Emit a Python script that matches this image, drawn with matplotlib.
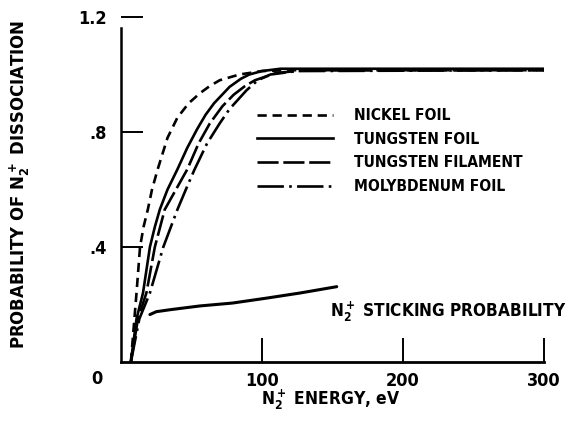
import matplotlib
matplotlib.use('Agg')
import matplotlib.pyplot as plt
from matplotlib import font_manager

# Dissociation probability vs N2+ energy, read per surface
energy_nickel = [7, 9, 11, 13.5, 16, 19, 22, 26, 33, 40, 48, 56, 63, 70, 84, 100, 120, 300]
prob_nickel = [0, 0.12, 0.24, 0.40, 0.47, 0.53, 0.60, 0.67, 0.78, 0.85, 0.90, 0.935, 0.96, 0.98, 1.0, 1.012, 1.015, 1.015]

energy_w_foil = [7, 11, 15.6, 20.5, 24, 27.5, 33, 40, 47, 54, 60, 66, 77, 85, 91, 100, 113, 300]
prob_w_foil = [0, 0.15, 0.24, 0.40, 0.47, 0.53, 0.60, 0.67, 0.745, 0.81, 0.86, 0.90, 0.957, 0.985, 1.0, 1.012, 1.02, 1.02]

energy_w_fil = [7, 12, 18, 24, 31, 39, 47, 55, 63, 72, 80, 88, 95, 110, 130, 300]
prob_w_fil = [0, 0.15, 0.24, 0.40, 0.53, 0.60, 0.67, 0.76, 0.83, 0.89, 0.93, 0.96, 0.98, 1.005, 1.015, 1.015]

energy_mo = [7, 13, 20.5, 30, 40, 46, 52, 61, 70, 77, 89, 97, 106, 125, 300]
prob_mo = [0, 0.15, 0.24, 0.40, 0.53, 0.60, 0.668, 0.76, 0.83, 0.88, 0.945, 0.98, 1.0, 1.012, 1.015]

# sticking probability curve
energy_stick = [20.5, 25, 35, 56, 79, 103, 127, 153]
prob_stick = [0.165, 0.175, 0.182, 0.195, 0.205, 0.222, 0.24, 0.262]

labels = ['NICKEL FOIL', 'TUNGSTEN FOIL', 'TUNGSTEN FILAMENT', 'MOLYBDENUM FOIL']
xticks = [100, 200, 300]
yticks = [0.4, 0.8, 1.2]
ytick_labels = ['.4', '.8', '1.2']


def pick_font():
    # prefer a narrow face, otherwise Liberation Sans
    narrow = [f for f in font_manager.fontManager.ttflist
              if 'Narrow' in f.name or 'Condensed' in f.name
              or f.stretch in ('condensed', 'semi-condensed', 'extra-condensed')]
    if narrow:
        narrow.sort(key=lambda f: 0 if str(f.weight) in ('bold', '700') else 1)
        return narrow[0].name, narrow[0].stretch
    return 'Liberation Sans', 'normal'


family, stretch = pick_font()
plt.rcParams['font.family'] = [family, 'DejaVu Sans']
plt.rcParams['font.weight'] = 'bold'
plt.rcParams['font.stretch'] = stretch
plt.rcParams['mathtext.fontset'] = 'custom'
plt.rcParams['mathtext.rm'] = family + ':bold'
plt.rcParams['mathtext.it'] = family + ':bold'
plt.rcParams['mathtext.bf'] = family + ':bold'
plt.rcParams['mathtext.default'] = 'regular'

fig = plt.figure(figsize=(5.7, 4.24), dpi=100)
ax = fig.add_axes([121/570, 1 - 362/424, 423/570, 345/424])

lw = 1.9
ax.plot(energy_nickel, prob_nickel, color='black', lw=lw, linestyle=(0, (3.5, 2.2)), label=labels[0])
ax.plot(energy_w_foil, prob_w_foil, color='black', lw=lw, linestyle='-', label=labels[1])
ax.plot(energy_w_fil, prob_w_fil, color='black', lw=lw, linestyle=(0, (8, 1.8)), label=labels[2])
ax.plot(energy_mo, prob_mo, color='black', lw=lw, linestyle=(0, (10, 2, 1, 2)), label=labels[3])
ax.plot(energy_stick, prob_stick, color='black', lw=2.2, solid_capstyle='round')

ax.set_xlim(0, 300)
ax.set_ylim(0, 1.2)
for side in ['top', 'right']:
    ax.spines[side].set_visible(False)
ax.spines['left'].set_bounds(0, 1.162)
ax.spines['left'].set_linewidth(1.8)
ax.spines['bottom'].set_linewidth(2.0)

ax.set_xticks(xticks)
ax.set_xticklabels([str(t) for t in xticks])
ax.set_yticks(yticks)
ax.set_yticklabels(ytick_labels)
ax.tick_params(axis='x', direction='in', length=17, width=1.4, pad=7, labelsize=13)
ax.tick_params(axis='y', direction='in', length=16, width=1.4, pad=10, labelsize=13)
ax.text(-17, -0.06, '0', ha='center', va='center', fontsize=13, clip_on=False)

ax.text(148, 0.174, r'N$_2^+$ STICKING PROBABILITY', ha='left', va='center', fontsize=12.3)

fig.text(20/570, 1 - 184/424, r'PROBABILITY OF N$_2^+$ DISSOCIATION',
         rotation=90, ha='center', va='center', fontsize=13.2)
fig.text(331/570, 1 - 405/424, r'N$_2^+$ ENERGY, eV', ha='center', va='baseline', fontsize=12.5)

ax.legend(loc='upper left', bbox_to_anchor=(257/570, 1 - 108/424), bbox_transform=fig.transFigure,
          frameon=False, borderpad=0, borderaxespad=0, handlelength=4.9, handletextpad=1.35,
          labelspacing=0.56, fontsize=11.2)

fig.savefig('out.png', dpi=100)
